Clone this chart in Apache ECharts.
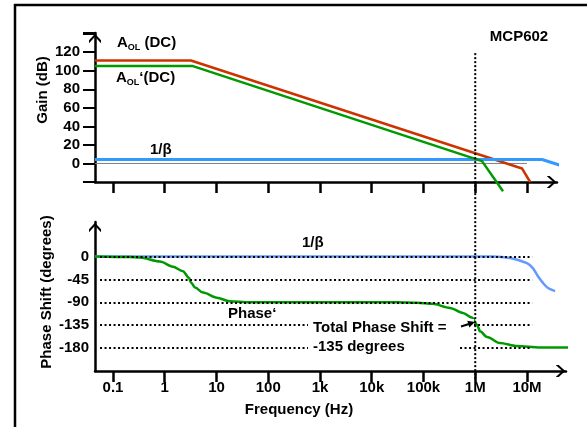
<!DOCTYPE html>
<html>
<head>
<meta charset="utf-8">
<script src="https://cdn.jsdelivr.net/npm/echarts@6/dist/echarts.min.js"></script>
<style>
  html, body { margin: 0; padding: 0; background: #fff; }
  #chart { width: 587px; height: 427px; }
</style>
</head>
<body>
<div id="chart"></div>
<script>
// frequency axis (Hz), plotted per decade
const freqTicks = [0.1, 1, 10, 100, 1e3, 1e4, 1e5, 1e6, 1e7]
const freqTickLabels = ['0.1', '1', '10', '100', '1k', '10k', '100k', '1M', '10M']
const freqMin = 0.0449
const freqMaxGain = 3.8e7
const freqMaxPhase = 5.68e7
const crossoverFreq = 1e6

// gain plot (dB)
const gainTicks = [0, 20, 40, 60, 80, 100, 120]
const aolFreq = [0.0449, 3.2, 8.0e6, 1.15e7]
const aolGain = [111, 111, -5.4, -20]
const aolPrimeFreq = [0.0449, 3.5, 1.35e6, 3.44e6]
const aolPrimeGain = [105, 105, 2.5, -30]
const betaGainFreq = [0.0449, 1.95e7, 5.7e7]
const betaGain = [4.3, 4.3, -4]
const zeroRefFreq = [0.0449, 1e7]
const zeroRefGain = [0, 0]

// phase plot (degrees)
const phaseTicks = [0, -45, -90, -135, -180]
const phaseFreq = [0.0449, 0.21, 0.33, 0.81, 1.44, 2.25, 2.94, 3.2, 3.85, 5.5, 10.2, 18, 44,
  3.2e4, 7.5e4, 1.5e5, 3.25e5, 5.8e5, 8.6e5, 1.08e6, 1.24e6, 1.69e6, 3.0e6, 6.4e6, 1.8e7, 7.4e7]
const phaseDeg = [0, -1, -2, -10, -20, -29, -42, -51, -61, -71, -81, -88, -90,
  -90, -91, -93, -101, -111, -120, -134, -147, -158, -170, -176, -179, -179]
const betaPhaseFreq = [0.0449, 2.2e6, 4.7e6, 1.0e7, 1.3e7, 1.63e7, 2.04e7, 2.55e7, 3.5e7]
const betaPhaseDeg = [0, 0, -3, -13, -23, -39, -52, -62, -68]
const phaseGuideFreq = [0.0562, 1.26e7]

const FONT = '"Liberation Sans", Arial, sans-serif'
const chevron = 'path://M10,0 L20,11 L20,16 L10,5 L0,16 L0,11 Z'
const lg = f => Math.log10(f)
const pts = (fs, vs) => fs.map((f, i) => [lg(f), vs[i]])
const decadeLabel = v => {
  const i = freqTicks.findIndex(f => Math.abs(lg(f) - v) < 1e-6)
  return i < 0 ? '' : freqTickLabels[i]
}

const chart = echarts.init(document.getElementById('chart'), null, { renderer: 'canvas' })

const axisLine = {
  onZero: false,
  lineStyle: { color: '#000', width: 2.5 },
  symbol: ['none', chevron],
  symbolSize: [12, 11],
  symbolOffset: [0, -5.5]
}
const labelStyle = { color: '#000', fontFamily: FONT, fontWeight: 'bold', fontSize: 15 }

const phaseGuides = phaseTicks.map(d => [
  { coord: [lg(phaseGuideFreq[0]), d] },
  { coord: [lg(phaseGuideFreq[1]), d] }
])

chart.setOption({
  animation: false,
  backgroundColor: '#fff',
  grid: [
    { left: 95, right: 30, top: 33, height: 149 },
    { left: 95, right: 21, top: 222, height: 149 }
  ],
  xAxis: [
    {
      gridIndex: 0, type: 'value', min: lg(freqMin), max: lg(freqMaxGain),
      axisLine: axisLine,
      axisTick: { show: true, length: 11, lineStyle: { color: '#000', width: 2.5 }, customValues: freqTicks.map(lg) },
      axisLabel: { show: false },
      splitLine: { show: false }
    },
    {
      gridIndex: 1, type: 'value', min: lg(freqMin), max: lg(freqMaxPhase),
      axisLine: axisLine,
      axisTick: { show: true, length: 11, lineStyle: { color: '#000', width: 2.5 }, customValues: freqTicks.map(lg) },
      axisLabel: Object.assign({ margin: 9, customValues: freqTicks.map(lg), formatter: decadeLabel }, labelStyle),
      splitLine: { show: false }
    }
  ],
  yAxis: [
    {
      gridIndex: 0, type: 'value', min: -20, max: 140.7, interval: 20,
      axisLine: axisLine,
      axisTick: { show: true, length: 12, lineStyle: { color: '#000', width: 2 } },
      axisLabel: Object.assign({ margin: 15, customValues: gainTicks }, labelStyle),
      splitLine: { show: false }
    },
    {
      gridIndex: 1, type: 'value', min: -225, max: 67.7, interval: 45,
      axisLine: axisLine,
      axisTick: { show: false },
      axisLabel: Object.assign({ margin: 6, customValues: phaseTicks }, labelStyle),
      splitLine: { show: false }
    }
  ],
  series: [
    {
      name: '0 dB', type: 'line', xAxisIndex: 0, yAxisIndex: 0,
      data: pts(zeroRefFreq, zeroRefGain), symbol: 'none',
      lineStyle: { color: '#808080', width: 1 }
    },
    {
      name: 'AOL', type: 'line', xAxisIndex: 0, yAxisIndex: 0, clip: false,
      data: pts(aolFreq, aolGain), symbol: 'none',
      lineStyle: { color: '#cc3300', width: 2.5 }
    },
    {
      name: '1/β gain', type: 'line', xAxisIndex: 0, yAxisIndex: 0, clip: false,
      data: pts(betaGainFreq, betaGain), symbol: 'none',
      lineStyle: { color: '#3399ff', width: 3 }
    },
    {
      name: 'AOL‘', type: 'line', xAxisIndex: 0, yAxisIndex: 0, clip: false,
      data: pts(aolPrimeFreq, aolPrimeGain), symbol: 'none',
      lineStyle: { color: '#009900', width: 2.5 }
    },
    {
      name: '1/β phase', type: 'line', xAxisIndex: 1, yAxisIndex: 1, clip: false,
      data: pts(betaPhaseFreq, betaPhaseDeg), symbol: 'none', smooth: 0.3,
      lineStyle: { color: '#6699ff', width: 2.5 },
      markLine: {
        silent: true, symbol: ['none', 'none'], label: { show: false },
        lineStyle: { color: '#000', width: 2, type: [2, 2.5] },
        data: phaseGuides
      }
    },
    {
      name: 'Phase‘', type: 'line', xAxisIndex: 1, yAxisIndex: 1, clip: false,
      data: pts(phaseFreq, phaseDeg), symbol: 'none', smooth: 0.3, smoothMonotone: 'x',
      lineStyle: { color: '#009900', width: 2.5 }
    }
  ]
})

// crossover marker spans both panels, so it is placed through the axes' own scales
const vx = chart.convertToPixel({ xAxisIndex: 0 }, lg(crossoverFreq))
const vTop = chart.convertToPixel({ yAxisIndex: 0 }, 119)
const vBottom = chart.convertToPixel({ yAxisIndex: 1 }, -240)

const txt = (text, x, y, align, extra) => Object.assign({
  type: 'text', x: x, y: y, z: 60,
  style: {
    text: text, fill: '#000', font: 'bold 15px ' + FONT,
    align: align, verticalAlign: 'middle', textAlign: align, textVerticalAlign: 'middle'
  }
}, extra || {})

const subRich = {
  a: { font: 'bold 15px ' + FONT, fill: '#000', lineHeight: 18 },
  s: { font: 'bold 9px ' + FONT, fill: '#000', lineHeight: 18, verticalAlign: 'bottom', padding: [7, 0, 0, 0] }
}

chart.setOption({
  graphic: [
    // frame
    { type: 'line', shape: { x1: 14, y1: 5, x2: 587, y2: 5 }, style: { stroke: '#000', lineWidth: 2.5 }, z: 60 },
    { type: 'line', shape: { x1: 15, y1: 4, x2: 15, y2: 427 }, style: { stroke: '#000', lineWidth: 2.5 }, z: 60 },
    // crossover at 1 MHz
    {
      type: 'line', z: 5,
      shape: { x1: vx, y1: vTop, x2: vx, y2: vBottom },
      style: { stroke: '#000', lineWidth: 2, lineDash: [2, 2] }
    },
    // axis titles
    txt('Gain (dB)', 43, 90, 'center', { rotation: Math.PI / 2 }),
    txt('Phase Shift (degrees)', 47, 292, 'center', { rotation: Math.PI / 2 }),
    txt('Frequency (Hz)', 299, 410, 'center'),
    txt('MCP602', 519, 37, 'center'),
    // curve labels
    {
      type: 'text', x: 117, y: 43, z: 60,
      style: { text: '{a|A}{s|OL}{a| (DC)}', rich: subRich, align: 'left', verticalAlign: 'middle' }
    },
    {
      type: 'text', x: 116, y: 78, z: 60,
      style: { text: '{a|A}{s|OL}{a|‘(DC)}', rich: subRich, align: 'left', verticalAlign: 'middle' }
    },
    txt('1/β', 150, 150, 'left'),
    txt('1/β', 302, 243, 'left'),
    txt('Phase‘', 228, 314, 'left'),
    // total phase shift note
    { type: 'rect', shape: { x: 308, y: 319, width: 166, height: 17 }, style: { fill: '#fff' }, z: 55 },
    { type: 'rect', shape: { x: 308, y: 338, width: 150, height: 18 }, style: { fill: '#fff' }, z: 55 },
    txt('Total Phase Shift =', 313, 328, 'left'),
    txt('-135 degrees', 313, 347, 'left'),
    { type: 'line', shape: { x1: 461, y1: 326.5, x2: 469, y2: 324 }, style: { stroke: '#000', lineWidth: 2 }, z: 60 },
    { type: 'polygon', shape: { points: [[475, 322], [469.3, 327.4], [467.3, 320.7]] }, style: { fill: '#000' }, z: 60 }
  ]
})
</script>
</body>
</html>
